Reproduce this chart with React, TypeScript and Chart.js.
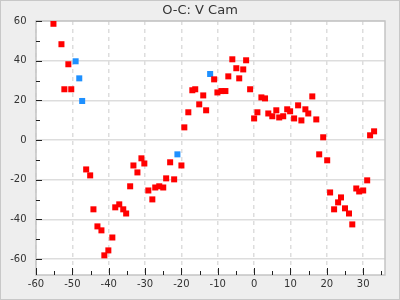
import React, { useEffect, useRef } from "react";
import { Chart, registerables } from "chart.js";

Chart.register(...registerables);

const titleText = "O-C: V Cam";

// Red observations: x = cycle, y = O-C
const redX = [
  -55.2, -53.0, -51.1, -52.2, -50.3, -46.2, -45.1, -44.2, -43.1, -42.0,
  -41.2, -40.1, -39.0, -38.2, -37.1, -36.0, -35.2, -34.1, -33.2, -32.1,
  -31.0, -30.2, -29.1, -28.0, -27.2, -26.1, -25.0, -24.2, -23.1, -22.0,
  -20.0, -19.2, -18.1, -17.0, -16.2, -15.1, -14.0, -13.2, -11.0, -10.1,
  -9.0, -7.9, -7.1, -6.0, -4.9, -4.1, -3.0, -2.2, -1.1, 0.0,
  0.9, 2.0, 3.0, 3.9, 5.0, 6.1, 6.9, 8.0, 9.1, 9.9,
  11.0, 12.1, 13.0, 14.1, 14.9, 16.0, 17.1, 17.9, 19.0, 20.1,
  20.9, 22.0, 23.1, 23.9, 25.0, 26.1, 27.0, 28.1, 28.9, 30.0,
  31.1, 31.9, 33.0,
];
const redY = [
  58.6, 48.3, 38.2, 25.6, 25.6, -14.8, -17.8, -34.9, -43.5, -45.5,
  -58.1, -55.6, -49.1, -33.9, -32.4, -34.9, -37.0, -23.3, -12.8, -16.3,
  -9.2, -11.8, -25.4, -29.9, -23.9, -23.3, -23.9, -19.3, -11.2, -19.8,
  -12.8, 6.4, 14.0, 25.1, 25.6, 18.0, 22.5, 15.0, 30.6, 24.0,
  24.7, 24.7, 32.1, 40.7, 36.2, 31.1, 35.6, 40.2, 25.6, 10.9,
  14.0, 21.5, 21.0, 13.4, 12.0, 15.0, 11.4, 12.0, 15.5, 14.5,
  10.9, 17.5, 9.9, 15.5, 13.4, 22.0, 10.4, -7.2, 1.4, -10.2,
  -26.4, -34.9, -31.4, -28.9, -34.4, -37.0, -42.5, -24.4, -25.9, -25.4,
  -20.3, 2.4, 4.4,
];

// Blue observations
const blueX = [-49.1, -48.1, -47.3, -21.1, -12.1];
const blueY = [39.7, 31.1, 19.7, -7.2, 33.3];

// Axis ticks
const xMajorTicks = [-60, -50, -40, -30, -20, -10, 0, 10, 20, 30];
const xMinorTicks = [-55, -45, -35, -25, -15, -5, 5, 15, 25, 35];
const yMajorTicks = [-60, -40, -20, 0, 20, 40, 60];
const yMinorTicks = [-50, -30, -10, 10, 30, 50];
const xRange = [-60, 36];
const yRange = [-68, 60];

const toPoints = (xs: number[], ys: number[]) => xs.map((x, i) => ({ x, y: ys[i] }));

const decorPlugin = {
  id: "decor",
  beforeDraw(chart: any) {
    const { ctx, width, height, chartArea } = chart;
    ctx.save();
    ctx.fillStyle = "#eeeeee";
    ctx.fillRect(0, 0, width, height);
    ctx.strokeStyle = "#c8c8c8";
    ctx.lineWidth = 1;
    ctx.strokeRect(0.5, 0.5, width - 1, height - 1);
    ctx.fillStyle = "#ffffff";
    ctx.fillRect(chartArea.left, chartArea.top, chartArea.right - chartArea.left, chartArea.bottom - chartArea.top);
    ctx.restore();
  },
  beforeDatasetsDraw(chart: any) {
    const { ctx, chartArea, scales } = chart;
    const { left, right, top, bottom } = chartArea;
    ctx.save();
    ctx.strokeStyle = "#c4c4c4";
    ctx.lineWidth = 1.5;
    ctx.strokeRect(left, top, right - left, bottom - top);
    ctx.strokeStyle = "#222";
    ctx.lineWidth = 1;
    ctx.beginPath();
    xMajorTicks.forEach((v) => {
      const px = Math.round(scales.x.getPixelForValue(v)) + 0.5;
      ctx.moveTo(px, bottom);
      ctx.lineTo(px, bottom - 7);
    });
    xMinorTicks.forEach((v) => {
      const px = Math.round(scales.x.getPixelForValue(v)) + 0.5;
      ctx.moveTo(px, bottom);
      ctx.lineTo(px, bottom - 4);
    });
    yMajorTicks.forEach((v) => {
      const py = Math.round(scales.y.getPixelForValue(v)) + 0.5;
      ctx.moveTo(left, py);
      ctx.lineTo(left + 6, py);
    });
    yMinorTicks.forEach((v) => {
      const py = Math.round(scales.y.getPixelForValue(v)) + 0.5;
      ctx.moveTo(left, py);
      ctx.lineTo(left + 4, py);
    });
    ctx.stroke();
    ctx.restore();
  },
};

export default function App() {
  const ref = useRef<HTMLCanvasElement | null>(null);

  useEffect(() => {
    if (!ref.current) return;
    const font = { family: "DejaVu Sans", size: 10 };
    const chart = new Chart(ref.current, {
      type: "scatter",
      data: {
        datasets: [
          {
            label: "red",
            data: toPoints(redX, redY),
            pointStyle: "rect",
            pointRadius: 4.25,
            pointHoverRadius: 4.25,
            pointBorderWidth: 0,
            backgroundColor: "#ff0000",
            borderColor: "#ff0000",
          },
          {
            label: "blue",
            data: toPoints(blueX, blueY),
            pointStyle: "rect",
            pointRadius: 4.25,
            pointHoverRadius: 4.25,
            pointBorderWidth: 0,
            backgroundColor: "#1e90ff",
            borderColor: "#1e90ff",
          },
        ],
      },
      options: {
        responsive: false,
        animation: false,
        events: [],
        layout: { padding: 0 },
        plugins: {
          legend: { display: false },
          tooltip: { enabled: false },
          title: {
            display: true,
            text: titleText,
            color: "#333333",
            font: { family: "DejaVu Sans", size: 13, weight: "normal", lineHeight: 1.2 },
            padding: { top: 3, bottom: 2.4 },
          },
        },
        scales: {
          x: {
            type: "linear",
            min: xRange[0],
            max: xRange[1],
            afterFit: (s: any) => {
              s.height = 25;
            },
            ticks: {
              stepSize: 10,
              includeBounds: false,
              color: "#333333",
              font,
              padding: 3,
              maxRotation: 0,
              callback: (v: any) => String(v),
            },
            grid: { color: "#dddddd", lineWidth: 1.5, drawTicks: false },
            border: { display: false, dash: [4, 4] },
          },
          y: {
            type: "linear",
            position: "left",
            min: yRange[0],
            max: yRange[1],
            afterFit: (s: any) => {
              s.width = 36;
            },
            ticks: {
              stepSize: 20,
              includeBounds: false,
              color: "#333333",
              font,
              padding: 9.5,
              callback: (v: any) => String(v),
            },
            grid: { color: "#dddddd", lineWidth: 1.5, drawTicks: false },
            border: { display: false },
          },
          yRightSpace: {
            type: "linear",
            position: "right",
            display: true,
            afterFit: (s: any) => {
              s.width = 15;
            },
            ticks: { display: false },
            grid: { display: false, drawTicks: false },
            border: { display: false },
          },
        },
      },
      plugins: [decorPlugin],
    });
    return () => chart.destroy();
  }, []);

  return (
    <div style={{ position: "fixed", left: 0, top: 0, width: 400, height: 300 }}>
      <canvas ref={ref} width={400} height={300} style={{ display: "block" }} />
    </div>
  );
}
